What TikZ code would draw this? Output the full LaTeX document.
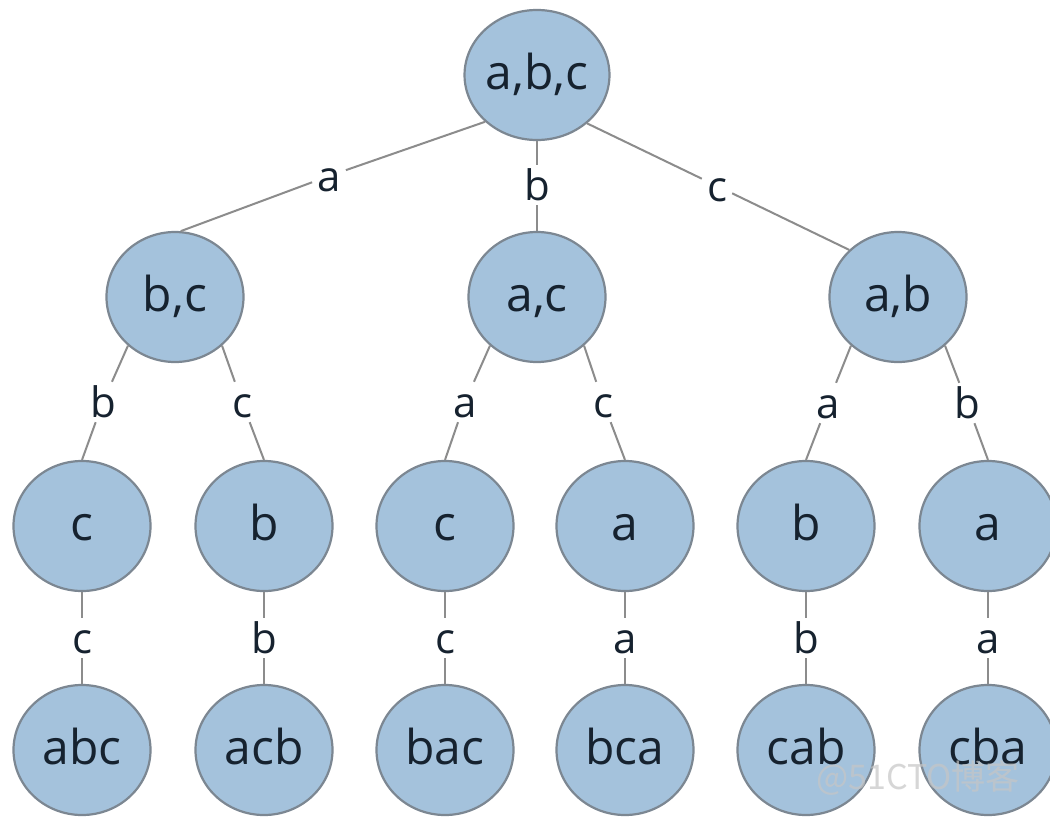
\documentclass[tikz,border=0pt]{standalone}
\usepackage{fontspec}
\setmainfont{Open Sans}
\newfontfamily\cjk{Noto Sans CJK SC}
\usetikzlibrary{shapes.geometric}
\definecolor{nodefill}{HTML}{A4C2DC}
\definecolor{nodeline}{HTML}{7C8792}
\definecolor{edgeline}{HTML}{8C8C8C}
\definecolor{txt}{HTML}{16222F}
\tikzset{
  tnode/.style={ellipse, draw=nodeline, line width=2.2pt, fill=nodefill,
    minimum width=137pt, minimum height=130pt, inner sep=0pt,
    text=txt, font=\fontsize{48}{48}\selectfont,
    text height=34pt, text depth=6pt},
  lbl/.style={inner sep=5pt, text=txt, font=\fontsize{42}{42}\selectfont,
    text height=30pt, text depth=0pt},
  edge/.style={draw=edgeline, line width=2pt}
}
\begin{document}
\begin{tikzpicture}[x=1pt,y=-1pt]
\useasboundingbox[fill=white] (0,0) rectangle (1050,825);
% nodes
\node[tnode] (r) at (537,75) {a,b,c};
\node[tnode] (bc) at (175,297) {b,c};
\node[tnode] (ac) at (537,297) {a,c};
\node[tnode] (ab) at (898,297) {a,b};
\node[tnode] (n1) at (82,526) {c};
\node[tnode] (n2) at (264,526) {b};
\node[tnode] (n3) at (445,526) {c};
\node[tnode] (n4) at (625,526) {a};
\node[tnode] (n5) at (806,526) {b};
\node[tnode] (n6) at (988,526) {a};
\node[tnode] (m1) at (82,750) {abc};
\node[tnode] (m2) at (264,750) {acb};
\node[tnode] (m3) at (445,750) {bac};
\node[tnode] (m4) at (625,750) {bca};
\node[tnode] (m5) at (806,750) {cab};
\node[tnode] (m6) at (988,750) {cba};
% labels
\node[lbl] (la) at (329,176) {a};
\node[lbl] (lb) at (537,185) {b};
\node[lbl] (lc) at (717,186) {c};
\node[lbl] (l11) at (103,402) {b};
\node[lbl] (l12) at (242,402) {c};
\node[lbl] (l13) at (465,402) {a};
\node[lbl] (l14) at (603,402) {c};
\node[lbl] (l15) at (828,403) {a};
\node[lbl] (l16) at (967,403) {b};
\node[lbl] (l21) at (82,638) {c};
\node[lbl] (l22) at (264,638) {b};
\node[lbl] (l23) at (445,638) {c};
\node[lbl] (l24) at (625,638) {a};
\node[lbl] (l25) at (806,638) {b};
\node[lbl] (l26) at (988,638) {a};
% edges
\draw[edge] (r.222) -- (la) -- (bc.85);
\draw[edge] (r.south) -- (lb) -- (ac.north);
\draw[edge] (r.-44) -- (lc) -- (ab.136);
\draw[edge] (bc.226) -- (l11) -- (n1.north);
\draw[edge] (bc.314) -- (l12) -- (n2.north);
\draw[edge] (ac.226) -- (l13) -- (n3.north);
\draw[edge] (ac.314) -- (l14) -- (n4.north);
\draw[edge] (ab.226) -- (l15) -- (n5.north);
\draw[edge] (ab.314) -- (l16) -- (n6.north);
\draw[edge] (n1.south) -- (l21) -- (m1.north);
\draw[edge] (n2.south) -- (l22) -- (m2.north);
\draw[edge] (n3.south) -- (l23) -- (m3.north);
\draw[edge] (n4.south) -- (l24) -- (m4.north);
\draw[edge] (n5.south) -- (l25) -- (m5.north);
\draw[edge] (n6.south) -- (l26) -- (m6.north);
% watermark
\node[text=gray!45, opacity=0.7, font=\cjk\fontsize{34}{34}\selectfont] (wm) at (918,778) {@51CTO博客};
\end{tikzpicture}
\end{document}
